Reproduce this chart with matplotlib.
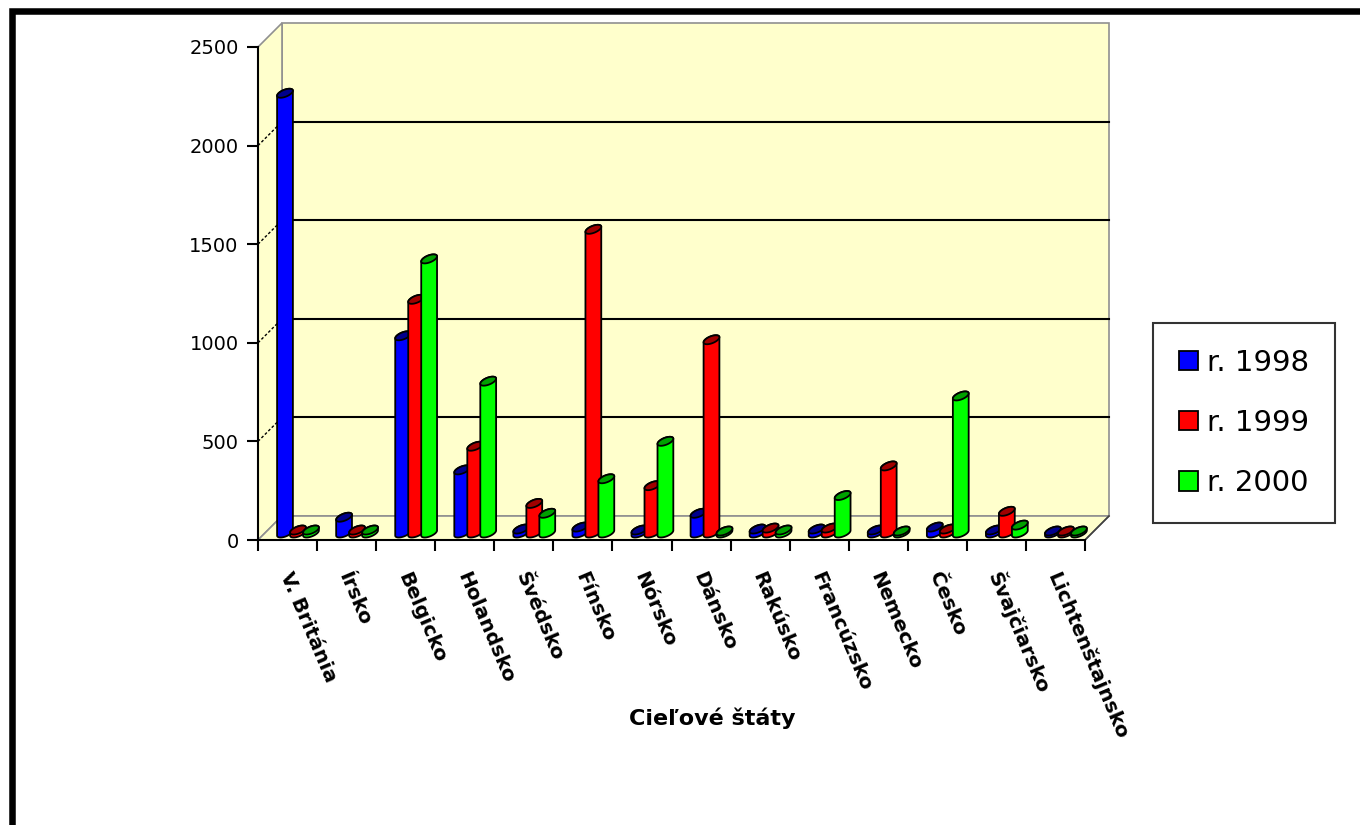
import matplotlib.pyplot as plt
import matplotlib.patches as mpatches
import numpy as np

#%% Data
countries = ['V. Británia', 'Írsko', 'Belgicko', 'Holandsko', 'Švédsko', 'Fínsko',
             'Nórsko', 'Dánsko', 'Rakúsko', 'Francúzsko', 'Nemecko', 'Česko',
             'Švajčiarsko', 'Lichtenštajnsko']
r1998 = [2230, 80, 1000, 320, 20, 30, 15, 100, 20, 20, 15, 30, 15, 10]
r1999 = [15, 15, 1185, 440, 150, 1540, 240, 980, 25, 25, 340, 20, 110, 10]
r2000 = [15, 15, 1390, 770, 100, 275, 465, 10, 15, 190, 10, 695, 40, 10]
series = [('r. 1998', r1998), ('r. 1999', r1999), ('r. 2000', r2000)]
yticks = [0, 500, 1000, 1500, 2000, 2500]

body_colors = ['#0000FF', '#FF0000', '#00FF00']
cap_colors = ['#00008C', '#A00000', '#00A000']
wall_color = '#FFFFCC'

plt.rcParams['font.family'] = ['DejaVu Sans']

#%% Figure and axes
W, H = 1360, 825
fig = plt.figure(figsize=(W / 100, H / 100), dpi=100)
x0px, x1px, y0px, y1px = 258, 1085, 540, 47
ax = fig.add_axes([x0px / W, 1 - y0px / H, (x1px - x0px) / W, (y0px - y1px) / H])
n = len(countries)
ax.set_xlim(0, n)
ax.set_ylim(0, 2500)
ax.patch.set_visible(False)

# pixel -> data unit conversion
ux = n / (x1px - x0px)
uy = 2500 / (y0px - y1px)

# 3D depth of the walls (pixels)
dx, dy = 24 * ux, 24 * uy

# back wall, left wall, floor
ax.fill([dx, n + dx, n + dx, dx], [dy, dy, 2500 + dy, 2500 + dy],
        facecolor=wall_color, edgecolor='#909090', lw=1.2, clip_on=False, zorder=0)
ax.fill([0, dx, dx, 0], [0, dy, 2500 + dy, 2500],
        facecolor=wall_color, edgecolor='#909090', lw=1.2, clip_on=False, zorder=0)
ax.fill([0, n, n + dx, dx], [0, 0, dy, dy],
        facecolor=wall_color, edgecolor='#909090', lw=1.2, clip_on=False, zorder=0)
ax.plot([n, n + dx], [0, dy], color='#404040', lw=1.2, clip_on=False, zorder=1)

for v in yticks[1:-1]:
    ax.plot([dx, n + dx], [v + dy, v + dy], color='black', lw=1.5, clip_on=False, zorder=1)
    ax.plot([0, dx], [v, v + dy], color='black', lw=1.0, ls=(0, (2, 1.5)), clip_on=False, zorder=1)

#%% Cylinders
a, s, c = 6.5, 4.5, 4.5          # ellipse half width, skew, half height (px)
base = 7 * uy                    # bars stand a bit behind the front edge
pitch = 0.22
first = 0.457
t_r = np.arctan2(s, a)


def ellipse(cx, cy, t):
    return cx + (a * np.cos(t) + s * np.sin(t)) * ux, cy + c * np.sin(t) * uy


for k, (name, vals) in enumerate(series):
    for i, v in enumerate(vals):
        cx = i + first + k * pitch
        top = base + v
        tb = np.linspace(t_r + np.pi, t_r + 2 * np.pi, 30)
        tt = np.linspace(t_r, t_r + np.pi, 30)
        bx, by = ellipse(cx, base, tb)
        tx, ty = ellipse(cx, top, tt)
        ax.fill(np.r_[bx, tx], np.r_[by, ty], facecolor=body_colors[k],
                edgecolor='black', lw=1.3, clip_on=False, zorder=3 + k + 3 * i)
        ex, ey = ellipse(cx, top, np.linspace(0, 2 * np.pi, 60))
        ax.fill(ex, ey, facecolor=cap_colors[k], edgecolor='black', lw=1.3,
                clip_on=False, zorder=3 + k + 3 * i)

#%% Axes, ticks and labels
for side in ['top', 'right']:
    ax.spines[side].set_visible(False)
for side in ['left', 'bottom']:
    ax.spines[side].set_color('black')
    ax.spines[side].set_linewidth(1.5)
    ax.spines[side].set_zorder(50)
ax.set_yticks(yticks)
ax.set_yticklabels([str(v) for v in yticks], fontsize=14)
ax.set_xticks(range(n + 1))
ax.set_xticklabels([])
ax.tick_params(axis='both', direction='out', length=8, width=1.5, color='black', pad=6)

for i, name in enumerate(countries):
    ax.text(i + 0.45, -33 * uy, name, rotation=-67, rotation_mode='anchor',
            ha='left', va='center', fontsize=14.5, fontweight='bold', clip_on=False)

fig.text(712 / W, 1 - 718 / H, 'Cieľové štáty', ha='center', va='center',
         fontsize=16, fontweight='bold')

handles = [mpatches.Patch(facecolor=body_colors[k], edgecolor='black', lw=1.3, label=name)
           for k, (name, vals) in enumerate(series)]
leg = fig.legend(handles=handles, loc='center', bbox_to_anchor=(1244 / W, 1 - 423 / H),
                 fontsize=21, frameon=True, fancybox=False, shadow=False,
                 handlelength=0.65, handleheight=0.65, handletextpad=0.3,
                 labelspacing=1.1, borderpad=0.9, borderaxespad=0)
leg.get_frame().set_edgecolor('black')
leg.get_frame().set_linewidth(1.5)

# picture frame
fig.add_artist(mpatches.Rectangle((11.5 / W, -0.1), 2, 1 - 11 / H + 0.1,
                                  transform=fig.transFigure, fill=False,
                                  edgecolor='black', lw=4.7, clip_on=False))

fig.savefig('out.png', dpi=100)
